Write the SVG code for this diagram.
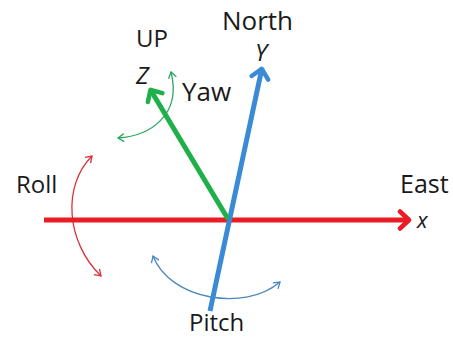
<svg xmlns="http://www.w3.org/2000/svg" width="453" height="338" viewBox="0 0 453 338">
<style>
text{font-family:"Open Sans","Noto Sans","Liberation Sans",sans-serif;fill:#1a1a1a}
.it{font-style:italic}
.thick{fill:none;stroke-width:5;stroke-linecap:butt}
.thin{fill:none;stroke-width:1.3}
</style>
<defs>
<marker id="mRed" viewBox="-14 -12 16 24" refX="0" refY="0" markerWidth="16" markerHeight="24" markerUnits="userSpaceOnUse" orient="auto"><path d="M-10,-8.5 L-1,0 L-10,8.5" fill="none" stroke="#ea1c24" stroke-width="4.5" stroke-linecap="round" stroke-linejoin="round"/></marker>
<marker id="mBlue" viewBox="-14 -12 16 24" refX="0" refY="0" markerWidth="16" markerHeight="24" markerUnits="userSpaceOnUse" orient="auto"><path d="M-10,-8.5 L-1,0 L-10,8.5" fill="none" stroke="#3a8ad6" stroke-width="4.5" stroke-linecap="round" stroke-linejoin="round"/></marker>
<marker id="mGreen" viewBox="-14 -12 16 24" refX="0" refY="0" markerWidth="16" markerHeight="24" markerUnits="userSpaceOnUse" orient="auto"><path d="M-10,-8.5 L-1,0 L-10,8.5" fill="none" stroke="#1fb04a" stroke-width="4.5" stroke-linecap="round" stroke-linejoin="round"/></marker>
<marker id="sRed" viewBox="-8 -6 9 12" refX="0" refY="0" markerWidth="9" markerHeight="12" markerUnits="userSpaceOnUse" orient="auto-start-reverse"><path d="M-6,-4 L0,0 L-6,4" fill="none" stroke="#d8333b" stroke-width="1.3"/></marker>
<marker id="sBlue" viewBox="-8 -6 9 12" refX="0" refY="0" markerWidth="9" markerHeight="12" markerUnits="userSpaceOnUse" orient="auto-start-reverse"><path d="M-6,-4 L0,0 L-6,4" fill="none" stroke="#4a88c2" stroke-width="1.3"/></marker>
<marker id="sGreen" viewBox="-8 -6 9 12" refX="0" refY="0" markerWidth="9" markerHeight="12" markerUnits="userSpaceOnUse" orient="auto-start-reverse"><path d="M-6,-4 L0,0 L-6,4" fill="none" stroke="#2aa862" stroke-width="1.3"/></marker>
</defs>
<g id="connectors">
<path id="roll-arc" class="thin" stroke="#d8333b" d="M92,156 C62,186 66,242 101,276" marker-start="url(#sRed)" marker-end="url(#sRed)"/>
<path id="pitch-arc" class="thin" stroke="#4a88c2" d="M153,256 C170,300 245,312 280,282" marker-start="url(#sBlue)" marker-end="url(#sBlue)"/>
<path id="yaw-arc" class="thin" stroke="#2aa862" d="M118,138 C150,136 182,115 171,72" marker-start="url(#sGreen)" marker-end="url(#sGreen)"/>
<line id="axis-x" class="thick" stroke="#ea1c24" x1="44" y1="220" x2="410" y2="220" marker-end="url(#mRed)"/>
<line id="axis-y" class="thick" stroke="#3a8ad6" x1="210" y1="311" x2="262" y2="68" marker-end="url(#mBlue)"/>
<line id="axis-z" class="thick" stroke="#1fb04a" x1="228" y1="219" x2="150" y2="89" marker-end="url(#mGreen)"/>
</g>
<g id="label-north"><text x="222" y="30" font-size="26">North</text><text class="it" x="255" y="61" font-size="24">Y</text></g>
<g id="label-up"><text x="136" y="47" font-size="24">UP</text><text class="it" x="136" y="84" font-size="24">Z</text></g>
<g id="label-yaw"><text x="182" y="101" font-size="26">Yaw</text></g>
<g id="label-roll"><text x="16" y="193" font-size="24">Roll</text></g>
<g id="label-east"><text x="400" y="193" font-size="25">East</text><text class="it" x="417" y="228" font-size="22">x</text></g>
<g id="label-pitch"><text x="189" y="331" font-size="24">Pitch</text></g>
</svg>
